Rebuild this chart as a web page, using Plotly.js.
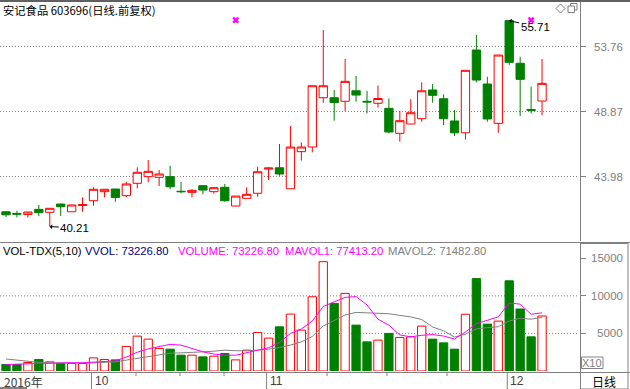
<!DOCTYPE html>
<html><head><meta charset="utf-8">
<script src="https://cdn.plot.ly/plotly-3.0.1.min.js"></script>
<style>html,body{margin:0;padding:0;background:#fff;overflow:hidden}#c{width:630px;height:389px}</style>
</head><body><div id="c"></div>
<script>
// ---- data ----
const opens  = [41.33,41.20,41.12,41.51,41.29,41.91,41.33,41.80,42.16,42.84,43.04,42.54,43.47,43.97,43.92,43.97,42.87,42.79,43.29,42.84,43.17,41.76,42.34,42.72,44.54,44.64,43.06,45.85,46.20,49.91,49.91,49.64,50.43,49.64,49.49,49.11,47.23,47.93,48.33,50.49,49.83,48.16,47.27,53.50,50.94,47.98,55.71,52.50,49.02,49.66];
const highs  = [41.36,41.40,41.31,41.84,41.60,41.93,41.85,42.41,43.17,43.03,43.05,43.59,44.67,45.22,44.47,44.79,43.57,43.04,43.31,43.16,43.42,42.51,43.17,44.72,44.67,46.43,47.78,46.55,50.81,55.00,50.49,52.82,51.54,50.43,50.83,49.86,48.93,49.79,51.07,50.94,50.16,48.98,51.97,54.63,51.49,53.12,55.71,52.99,50.74,52.82];
const lows   = [40.93,40.91,40.91,41.01,40.21,41.01,41.33,41.33,41.78,42.41,42.08,42.44,43.09,43.54,43.27,43.04,42.72,42.41,42.64,42.69,42.08,41.76,42.34,42.46,43.72,44.04,43.06,45.17,45.80,49.53,48.18,48.91,49.61,48.73,49.17,47.23,46.60,47.93,48.10,49.53,47.85,47.03,46.76,51.07,48.10,47.27,52.37,48.53,48.73,48.58];
const closes = [41.10,41.15,41.31,41.26,41.59,41.71,41.84,41.86,43.02,43.02,42.41,43.42,44.30,44.37,44.17,43.21,42.84,42.94,42.96,43.14,42.16,42.51,42.64,44.34,44.62,44.17,46.20,46.20,50.81,50.81,49.55,51.14,50.11,49.59,49.85,47.33,48.18,48.78,50.43,50.09,48.33,47.27,51.97,51.24,48.31,53.12,52.57,51.29,48.96,50.99];
const volume = [867,867,1133,1533,1213,1000,1000,1000,1747,1533,1480,3267,4640,4240,3000,2907,2107,2107,1880,1973,2333,1480,2773,5133,4373,5880,7573,5440,9880,14547,9000,10333,6107,3880,4107,5000,4467,4547,5973,4240,3747,2907,7550,12300,6240,6640,12000,8250,4547,7323];
const mavol1 = [870,880,950,1000,1050,1080,1100,1100,1150,1200,1350,1850,2500,2950,3250,3550,3440,3000,2550,2250,2110,2100,2400,2700,3100,3800,5000,5600,6650,8600,9250,9800,9900,8800,6900,6100,4800,4550,4750,4850,4650,4250,5200,6300,6750,7200,9050,8900,7550,7741];
const mavol2 = [1600,1450,1250,1150,1080,1050,1050,1050,1080,1150,1220,1450,1680,1970,2240,2370,2410,2450,2550,2640,2770,2700,2680,2780,2900,3130,3440,3880,4600,6000,6700,7450,7800,7720,7700,7620,7400,7200,6850,5850,5350,4520,4900,5600,5780,5880,6650,7020,6900,7148];
const priceTicks = [43.98, 48.87, 53.76];
const priceTickText = ['43.98', '48.87', '53.76'];
const volTicks = [5000, 10000, 15000];
const volTickText = ['5000', '10000', '15000'];
const volGrid = [5000, 10000];
const monthStarts = [8, 24, 46];
const monthLabels = ['10', '11', '12'];
const yearLabel = '2016年';
const infoMarks = [21, 48];
const hiIdx = 46, hiVal = 55.71, loIdx = 4, loVal = 40.21;
const title = '安记食品 603696(日线.前复权)';
const header = [
  ['VOL-TDX(5,10)', 1, '#000000'],
  ['VVOL: 73226.80', 83, '#000080'],
  ['VOLUME: 73226.80', 176, '#ff00ff'],
  ['MAVOL1: 77413.20', 283, '#ff00ff'],
  ['MAVOL2: 71482.80', 386, '#808080']
];

// ---- helpers ----
const W = 630, H = 389;
const PX = x => x / W, PY = y => 1 - y / H;
const idx = opens.map((_, i) => i);
const up = closes.map((c, i) => c >= opens[i]);
const GRAY = '#808080';
const LAT = 'Liberation Sans, Arial, sans-serif';
const CJK = 'Noto Sans CJK SC, sans-serif';

const traces = [
  {type: 'candlestick', x: idx, open: opens, high: highs, low: lows, close: closes,
   xaxis: 'x', yaxis: 'y', whiskerwidth: 0, hoverinfo: 'skip',
   increasing: {line: {color: '#ff0000', width: 1}, fillcolor: '#ffffff'},
   decreasing: {line: {color: '#008000', width: 1}, fillcolor: '#008000'}},
  {type: 'scatter', mode: 'markers', x: infoMarks, y: infoMarks.map(() => 55.75),
   xaxis: 'x', yaxis: 'y', hoverinfo: 'skip',
   marker: {symbol: 'x', size: 6, color: '#ff00ff', line: {width: 0}}},
  {type: 'bar', x: idx, y: volume, xaxis: 'x2', yaxis: 'y2', width: 0.76, hoverinfo: 'skip',
   marker: {color: up.map(u => u ? '#ffffff' : '#008000'),
            line: {color: up.map(u => u ? '#ff0000' : '#008000'), width: 1}}},
  {type: 'scatter', mode: 'lines', x: idx, y: mavol2, xaxis: 'x2', yaxis: 'y2', hoverinfo: 'skip',
   line: {color: GRAY, width: 1}},
  {type: 'scatter', mode: 'lines', x: idx, y: mavol1, xaxis: 'x2', yaxis: 'y2', hoverinfo: 'skip',
   line: {color: '#ff00ff', width: 1}}
];

const shapes = [];
const line = (x0, y0, x1, y1, color, width, dash) => shapes.push({type: 'line', xref: 'paper', yref: 'paper',
  x0: PX(x0), y0: PY(y0), x1: PX(x1), y1: PY(y1), line: {color: color, width: width || 1, dash: dash || 'solid'}});
// frame lines
line(0, 1, 630, 1, '#606060', 2);
line(0, 242.5, 630, 242.5, GRAY, 1);
line(0, 372.5, 630, 372.5, GRAY, 1);
shapes.push({type: 'rect', xref: 'paper', yref: 'paper', x0: PX(580.5), x1: PX(628), y0: PY(243.5), y1: PY(372.5), line: {color: GRAY, width: 1}});
shapes.push({type: 'rect', xref: 'paper', yref: 'paper', x0: PX(580.5), x1: PX(628), y0: PY(372.5), y1: PY(389), line: {color: GRAY, width: 1}});
line(0, 388, 27, 388, GRAY, 2);
// dotted grids
priceTicks.forEach(v => shapes.push({type: 'line', layer: 'below', xref: 'paper', yref: 'y', x0: 0, x1: PX(577), y0: v, y1: v,
  line: {color: GRAY, width: 1, dash: '1px,2px'}}));
volGrid.forEach(v => shapes.push({type: 'line', layer: 'below', xref: 'paper', yref: 'y2', x0: 0, x1: PX(577), y0: v, y1: v,
  line: {color: GRAY, width: 1, dash: '1px,2px'}}));
// month separators
monthStarts.forEach(m => shapes.push({type: 'line', xref: 'x', yref: 'paper', x0: m - 0.18, x1: m - 0.18, y0: PY(373), y1: PY(389),
  line: {color: GRAY, width: 1}}));
// small ticks on the date strip
[136, 180, 224, 327, 387, 447].forEach(x => line(x, 373, x, 376, GRAY, 1));
// icons (diamond, two squares)
shapes.push({type: 'path', xref: 'paper', yref: 'paper',
  path: `M ${PX(556)},${PY(8.5)} L ${PX(560.5)},${PY(4)} L ${PX(565)},${PY(8.5)} L ${PX(560.5)},${PY(13)} Z`,
  line: {color: GRAY, width: 1}});
shapes.push({type: 'rect', xref: 'paper', yref: 'paper', x0: PX(570.5), x1: PX(577), y0: PY(3.5), y1: PY(10), line: {color: GRAY, width: 1}});
shapes.push({type: 'rect', xref: 'paper', yref: 'paper', x0: PX(568), x1: PX(574.5), y0: PY(6), y1: PY(12.5), fillcolor: '#ffffff', line: {color: GRAY, width: 1}});
// X10 box
shapes.push({type: 'rect', xref: 'paper', yref: 'paper', x0: PX(581.5), x1: PX(603), y0: PY(357), y1: PY(368.5), line: {color: GRAY, width: 1}});

const ann = [];
const txt = (t, x, y, color, size, family, xanchor) => ann.push({text: t, xref: 'paper', yref: 'paper', x: PX(x), y: PY(y),
  xanchor: xanchor || 'left', yanchor: 'middle', showarrow: false, font: {color: color, size: size, family: family}});
txt(title, 1, 10, '#000000', 11.3, CJK);
header.forEach(h => txt(h[0], h[1], 251, h[2], 11.3, LAT));
priceTicks.forEach((v, i) => ann.push({text: priceTickText[i], xref: 'paper', yref: 'y', x: PX(625), y: v, xanchor: 'right', yanchor: 'middle',
  showarrow: false, font: {color: GRAY, size: 11.5, family: LAT}}));
volTicks.forEach((v, i) => ann.push({text: volTickText[i], xref: 'paper', yref: 'y2', x: PX(625), y: v, xanchor: 'right', yanchor: 'middle',
  showarrow: false, font: {color: GRAY, size: 11.5, family: LAT}}));
txt('X10', 592.3, 363, GRAY, 11, LAT, 'center');
txt('日线', 604, 381, '#000000', 12, CJK, 'center');
txt(yearLabel, 2, 381, '#404040', 12, CJK);
monthStarts.forEach((m, i) => ann.push({text: monthLabels[i], xref: 'x', yref: 'paper', x: m - 0.18, y: PY(381), xanchor: 'left', xshift: 1,
  yanchor: 'middle', showarrow: false, font: {color: '#404040', size: 12, family: LAT}}));
ann.push({text: hiVal.toFixed(2), xref: 'x', yref: 'y', x: hiIdx, y: hiVal, ax: 26, ay: 6, showarrow: true,
  arrowhead: 1, arrowsize: 0.8, arrowwidth: 1, arrowcolor: '#000000', standoff: 0, font: {color: '#000000', size: 11.5, family: LAT}});
ann.push({text: loVal.toFixed(2), xref: 'x', yref: 'y', x: loIdx, y: loVal, ax: 25, ay: 1, showarrow: true,
  arrowhead: 1, arrowsize: 0.8, arrowwidth: 1, arrowcolor: '#000000', standoff: 0, font: {color: '#000000', size: 11.5, family: LAT}});

const xr = [-0.548, 52.47];
const layout = {
  width: W, height: H, margin: {l: 0, r: 0, t: 0, b: 0},
  paper_bgcolor: '#ffffff', plot_bgcolor: '#ffffff', showlegend: false,
  boxgap: 0.24, boxgroupgap: 0, dragmode: false,
  xaxis: {domain: [0, 580 / W], range: xr, anchor: 'y', showticklabels: false, showgrid: false, zeroline: false,
          showline: false, ticks: '', rangeslider: {visible: false}, fixedrange: true},
  xaxis2: {domain: [0, 580 / W], range: xr, anchor: 'y2', showticklabels: false, showgrid: false, zeroline: false,
           showline: false, ticks: '', fixedrange: true},
  yaxis: {domain: [PY(241), PY(2)], range: [39.13, 57.11], anchor: 'x', side: 'right', showgrid: false, zeroline: false,
          showticklabels: false, ticks: 'outside', ticklen: 5, tickcolor: GRAY, tickvals: priceTicks,
          showline: true, linecolor: GRAY, linewidth: 1, fixedrange: true},
  yaxis2: {domain: [PY(371), PY(243)], range: [0, 17036], anchor: 'x2', side: 'right', showgrid: false, zeroline: false,
           showticklabels: false, ticks: 'outside', ticklen: 5, tickcolor: GRAY, tickvals: volTicks,
           showline: true, linecolor: GRAY, linewidth: 1, fixedrange: true},
  shapes: shapes, annotations: ann
};
Plotly.newPlot('c', traces, layout, {displayModeBar: false, staticPlot: true});
</script></body></html>
